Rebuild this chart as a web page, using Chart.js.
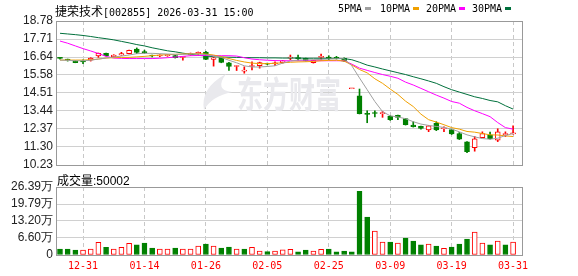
<!DOCTYPE html>
<html>
<head>
<meta charset="utf-8">
<script src="https://cdn.jsdelivr.net/npm/chart.js@4.4.1/dist/chart.umd.min.js"></script>
<style>
    html, body { margin: 0; padding: 0; background: #fff; }
    #wrap { position: relative; width: 578px; height: 276px; overflow: hidden; }
    canvas { position: absolute; left: 0; top: 0; }
    .txt { position: absolute; white-space: pre; color: #000; line-height: 12px; }
    .cjk { font: 12px "Noto Sans CJK SC", sans-serif; }
    .mono { font: 10px "DejaVu Sans Mono", monospace; }
    .sans { font: 12px "Liberation Sans", Arial, sans-serif; }
    .sq { position: absolute; width: 6px; height: 3px; }
</style>
</head>
<body>
<div id="wrap">
    <canvas id="kline" width="578" height="276"></canvas>
    <canvas id="vol" width="578" height="276"></canvas>

    <div class="txt" style="left:55px; top:2px;"><span class="cjk">捷荣技术</span><span class="mono">[002855] 2026-03-31 15:00</span></div>

    <div class="txt mono" style="left:338px; top:3px;">5PMA</div>
    <div class="sq" style="left:365px; top:7px; background:#a0a0a0;"></div>
    <div class="txt mono" style="left:380px; top:3px;">10PMA</div>
    <div class="sq" style="left:413px; top:7px; background:#f0a000;"></div>
    <div class="txt mono" style="left:426px; top:3px;">20PMA</div>
    <div class="sq" style="left:459px; top:7px; background:#ff00ff;"></div>
    <div class="txt mono" style="left:472px; top:3px;">30PMA</div>
    <div class="sq" style="left:505px; top:7px; background:#00703c;"></div>

    <div class="txt" style="left:57px; top:171px;"><span class="cjk">成交量</span><span class="sans">:50002</span></div>
</div>

<script>
        // trading days shown
        const dates = [
            '12-26', '12-29', '12-30', '12-31', '01-05', '01-06', '01-07', '01-08', '01-09', '01-12',
            '01-13', '01-14', '01-15', '01-16', '01-19', '01-20', '01-21', '01-22', '01-23', '01-26',
            '01-27', '01-28', '01-29', '01-30', '02-02', '02-03', '02-04', '02-05', '02-06', '02-09',
            '02-10', '02-11', '02-12', '02-13', '02-24', '02-25', '02-26', '02-27', '03-02', '03-03',
            '03-04', '03-05', '03-06', '03-09', '03-10', '03-11', '03-12', '03-13', '03-16', '03-17',
            '03-18', '03-19', '03-20', '03-23', '03-24', '03-25', '03-26', '03-27', '03-30', '03-31'
        ];

        const open = [
            16.58, 16.50, 16.42, 16.37, 16.45, 16.70, 16.86, 16.66, 16.76, 16.84,
            17.12, 16.93, 16.72, 16.70, 16.72, 16.72, 16.62, 16.76, 16.82, 16.94,
            16.50, 16.62, 16.30, 16.08, 15.80, 16.08, 16.13, 16.27, 16.24, 16.31,
            16.58, 16.58, 16.56, 16.31, 16.62, 16.62, 16.60, 16.56, 14.76, 14.33,
            13.28, 13.32, 13.28, 13.14, 13.18, 12.98, 12.60, 12.52, 12.32, 12.71,
            12.38, 12.34, 12.10, 11.60, 11.26, 11.86, 12.02, 11.70, 12.03, 12.08
        ];
        const high = [
            16.62, 16.52, 16.42, 16.48, 16.60, 16.88, 16.88, 16.78, 16.92, 17.06,
            17.18, 17.05, 16.76, 16.78, 16.80, 16.74, 16.68, 16.88, 16.94, 16.98,
            16.62, 16.64, 16.32, 16.12, 16.06, 16.36, 16.34, 16.28, 16.36, 16.44,
            16.76, 16.75, 16.58, 16.46, 16.82, 16.72, 16.68, 16.60, 14.76, 14.74,
            13.45, 13.45, 13.42, 13.16, 13.20, 13.00, 12.80, 12.54, 12.57, 12.80,
            12.50, 12.36, 12.16, 11.62, 11.92, 12.20, 12.18, 12.38, 12.20, 12.56
        ];
        const low = [
            16.52, 16.40, 16.30, 16.24, 16.40, 16.62, 16.70, 16.64, 16.74, 16.82,
            16.84, 16.86, 16.64, 16.66, 16.68, 16.58, 16.46, 16.74, 16.80, 16.48,
            16.10, 16.30, 15.84, 15.84, 15.68, 15.88, 15.98, 16.18, 16.13, 16.28,
            16.48, 16.44, 16.40, 16.28, 16.46, 16.48, 16.52, 16.38, 14.76, 13.26,
            12.74, 13.08, 13.06, 12.88, 12.92, 12.60, 12.48, 12.36, 12.21, 12.27,
            12.21, 12.04, 11.74, 10.96, 11.05, 11.84, 11.76, 11.62, 11.92, 12.06
        ];
        const close = [
            16.56, 16.46, 16.31, 16.35, 16.58, 16.86, 16.72, 16.76, 16.84, 17.04,
            16.92, 16.90, 16.70, 16.74, 16.76, 16.60, 16.64, 16.86, 16.92, 16.50,
            16.60, 16.32, 16.08, 16.10, 15.82, 16.12, 16.31, 16.21, 16.26, 16.42,
            16.62, 16.55, 16.42, 16.44, 16.66, 16.58, 16.56, 16.40, 14.76, 13.28,
            13.24, 13.29, 13.32, 12.92, 13.05, 12.63, 12.50, 12.40, 12.55, 12.31,
            12.41, 12.07, 11.76, 11.02, 11.78, 12.10, 11.80, 12.20, 12.06, 12.12
        ];

        // moving averages as drawn
        const ma5 = [
            16.46, 16.44, 16.42, 16.42, 16.45, 16.52, 16.58, 16.64, 16.70, 16.76,
            16.84, 16.86, 16.86, 16.84, 16.82, 16.80, 16.80, 16.82, 16.82, 16.78,
            16.70, 16.62, 16.45, 16.30, 16.12, 16.05, 16.05, 16.08, 16.12, 16.28,
            16.40, 16.46, 16.47, 16.48, 16.50, 16.52, 16.54, 16.54, 16.12, 15.40,
            14.70, 14.00, 13.40, 13.15, 13.08, 12.98, 12.80, 12.66, 12.58, 12.52,
            12.46, 12.36, 12.20, 12.02, 11.90, 11.80, 11.76, 11.82, 11.98, 12.10
        ];
        const ma10 = [
            16.46, 16.46, 16.46, 16.46, 16.48, 16.52, 16.58, 16.60, 16.62, 16.62,
            16.65, 16.68, 16.72, 16.76, 16.78, 16.80, 16.82, 16.84, 16.84, 16.82,
            16.76, 16.66, 16.55, 16.44, 16.35, 16.28, 16.25, 16.25, 16.27, 16.30,
            16.33, 16.35, 16.36, 16.38, 16.42, 16.44, 16.45, 16.40, 16.17, 15.90,
            15.70, 15.35, 15.08, 14.74, 14.42, 14.02, 13.70, 13.25, 12.92, 12.78,
            12.62, 12.45, 12.36, 12.22, 12.18, 12.10, 12.02, 12.01, 11.96, 11.92
        ];
        const ma20 = [
            17.59, 17.46, 17.30, 17.14, 17.00, 16.85, 16.68, 16.58, 16.56, 16.55,
            16.55, 16.55, 16.55, 16.57, 16.60, 16.64, 16.68, 16.72, 16.73, 16.73,
            16.73, 16.72, 16.72, 16.70, 16.60, 16.52, 16.48, 16.45, 16.43, 16.42,
            16.42, 16.42, 16.42, 16.42, 16.42, 16.42, 16.42, 16.42, 16.22, 15.98,
            15.85, 15.72, 15.60, 15.50, 15.38, 15.15, 14.98, 14.78, 14.58, 14.38,
            14.20, 14.00, 13.90, 13.65, 13.45, 13.28, 13.10, 12.75, 12.45, 12.36
        ];
        const ma30 = [
            18.05, 18.01, 17.97, 17.92, 17.86, 17.79, 17.73, 17.66, 17.57, 17.48,
            17.38, 17.30, 17.19, 17.10, 17.01, 16.95, 16.87, 16.81, 16.74, 16.70,
            16.66, 16.64, 16.63, 16.62, 16.61, 16.60, 16.60, 16.59, 16.59, 16.58,
            16.58, 16.58, 16.57, 16.57, 16.57, 16.56, 16.56, 16.55, 16.48, 16.33,
            16.16, 16.05, 15.93, 15.82, 15.71, 15.60, 15.47, 15.35, 15.22, 15.08,
            14.88, 14.70, 14.56, 14.42, 14.28, 14.18, 14.06, 13.98, 13.75, 13.55
        ];

        // volume, in 万
        const volume = [
            2.3, 2.3, 1.9, 1.9, 2.3, 4.9, 3.0, 2.3, 3.0, 4.5,
            3.9, 4.6, 2.7, 2.3, 2.3, 2.7, 2.3, 2.3, 3.5, 4.2,
            3.5, 2.7, 3.1, 2.3, 2.3, 3.0, 1.5, 1.3, 1.5, 2.0,
            2.2, 1.2, 1.9, 1.5, 2.2, 2.3, 1.2, 1.5, 1.2, 24.7,
            14.7, 9.3, 5.0, 5.0, 4.6, 6.6, 5.4, 3.9, 4.2, 3.5,
            2.6, 3.1, 4.2, 6.2, 8.9, 4.6, 3.9, 5.4, 3.9, 5.0
        ];

        const dateTickLabels = ['12-31', '01-14', '01-26', '02-05', '02-25', '03-09', '03-19', '03-31'];
        const priceTickLabels = ['10.23', '11.30', '12.37', '13.44', '14.51', '15.58', '16.64', '17.71', '18.78'];
        const volTickValues = [0, 6.60, 13.20, 19.79, 26.39];
        const volTickLabels = ['0', '6.60万', '13.20万', '19.79万', '26.39万'];

        const RED = '#ff0000';
        const GREEN = '#008000';
        const dateTicks = dateTickLabels.map(d => dates.indexOf(d));
        const priceTicks = priceTickLabels.map(parseFloat);

        const candleUp = close.map((c, i) => c >= open[i]);
        const volUp = close.map((c, i) => i === 0 ? c >= open[0] : c >= close[i - 1]);

        const frame = {
            id: 'frame',
            beforeDatasetsDraw(chart, args, opts) {
                if (!opts.watermark) return;
                const ctx = chart.ctx;
                ctx.save();
                ctx.fillStyle = '#e9e9ed';
                // logo swoosh
                ctx.beginPath();
                ctx.moveTo(226, 74);
                ctx.quadraticCurveTo(200, 88, 204, 110);
                ctx.quadraticCurveTo(212, 96, 232, 92);
                ctx.quadraticCurveTo(214, 90, 226, 74);
                ctx.fill();
                ctx.font = 'bold 26px "Noto Sans CJK SC"';
                ctx.textBaseline = 'middle';
                ctx.translate(237, 94);
                ctx.scale(1, 1.4);
                ctx.fillText('东方财富', 0, 0);
                ctx.restore();
            },
            afterDraw(chart) {
                const { ctx, chartArea: a } = chart;
                ctx.save();
                ctx.strokeStyle = '#999';
                ctx.lineWidth = 1;
                ctx.strokeRect(a.left + 0.5, a.top + 0.5, a.right - a.left, a.bottom - a.top);
                ctx.restore();
            }
        };

        function xAxis(showLabels) {
            return {
                type: 'linear',
                offset: false,
                min: -0.52,
                max: 60.16,
                afterBuildTicks: (scale) => { scale.ticks = dateTicks.map(v => ({ value: v })); },
                afterFit: (scale) => { scale.height = showLabels ? 21 : 0; },
                grid: { color: '#c8c8c8', drawTicks: false, offset: false },
                border: { display: false, dash: [4, 3] },
                ticks: {
                    display: showLabels,
                    autoSkip: false,
                    maxRotation: 0,
                    padding: 5,
                    color: RED,
                    font: { family: 'DejaVu Sans Mono', size: 10 },
                    callback: (v) => dateTickLabels[dateTicks.indexOf(v)]
                }
            };
        }

        function yAxis(min, max, values, labels) {
            return {
                min: min,
                max: max,
                afterBuildTicks: (scale) => { scale.ticks = values.map(v => ({ value: v })); },
                afterFit: (scale) => { scale.width = 56; },
                grid: { color: '#d0d0d0', drawTicks: false },
                border: { display: false },
                ticks: {
                    autoSkip: false,
                    padding: 3,
                    color: '#222',
                    font: { family: 'Liberation Sans', size: 12 },
                    callback: (v, i) => labels[i]
                }
            };
        }

        function maLine(values, color) {
            return {
                type: 'line',
                data: values.map((v, i) => ({ x: i, y: v })),
                borderColor: color,
                borderWidth: 1,
                pointRadius: 0,
                tension: 0,
                order: 0
            };
        }

        new Chart(document.getElementById('kline'), {
            type: 'bar',
            data: {
                datasets: [
                    maLine(ma5, '#a0a0a0'),
                    maLine(ma10, '#f0a000'),
                    maLine(ma20, '#ff00ff'),
                    maLine(ma30, '#00703c'),
                    {
                        data: open.map((o, i) => ({ x: i, y: [o, close[i]] })),
                        backgroundColor: candleUp.map(u => u ? '#fff' : GREEN),
                        borderColor: candleUp.map(u => u ? RED : GREEN),
                        borderWidth: 1,
                        borderSkipped: false,
                        minBarLength: 1,
                        barThickness: 5,
                        grouped: false,
                        order: 1
                    },
                    {
                        data: low.map((l, i) => ({ x: i, y: [l, high[i]] })),
                        backgroundColor: candleUp.map(u => u ? RED : GREEN),
                        borderWidth: 0,
                        barThickness: 1,
                        grouped: false,
                        order: 2
                    }
                ]
            },
            options: {
                responsive: false,
                animation: false,
                layout: { padding: { left: 0, right: 56, top: 21, bottom: 111 } },
                scales: {
                    x: xAxis(false),
                    y: yAxis(10.23, 18.78, priceTicks, priceTickLabels)
                },
                plugins: {
                    legend: { display: false },
                    tooltip: { enabled: false },
                    frame: { watermark: true }
                }
            },
            plugins: [frame]
        });

        new Chart(document.getElementById('vol'), {
            type: 'bar',
            data: {
                datasets: [{
                    data: volume.map((v, i) => ({ x: i, y: v })),
                    backgroundColor: volUp.map(u => u ? '#fff' : GREEN),
                    borderColor: volUp.map(u => u ? RED : GREEN),
                    borderWidth: 1,
                    borderSkipped: false,
                    barThickness: 5,
                    grouped: false
                }]
            },
            options: {
                responsive: false,
                animation: false,
                layout: { padding: { left: 0, right: 56, top: 187, bottom: 0 } },
                scales: {
                    x: xAxis(true),
                    y: yAxis(0, 26.39, volTickValues, volTickLabels)
                },
                plugins: {
                    legend: { display: false },
                    tooltip: { enabled: false },
                    frame: { watermark: false }
                }
            },
            plugins: [frame]
        });
</script>
</body>
</html>
